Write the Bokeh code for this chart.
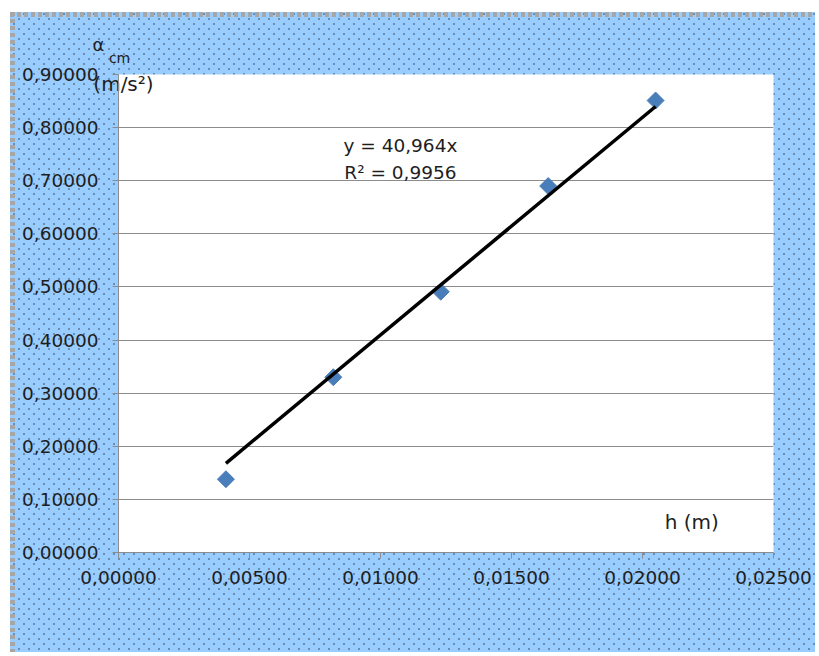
import math
from bokeh.plotting import figure
from bokeh.models import (Range1d, FixedTicker, CustomJSTickFormatter, Label, LinearAxis, Title)
from bokeh.embed import file_html
from bokeh.resources import INLINE

# ---- data ----
h_m = [0.0041, 0.0082, 0.0123, 0.0164, 0.0205]
a_cm = [0.138, 0.330, 0.491, 0.690, 0.851]
slope = 40.964
r2_text = "R² = 0,9956"
eq_text = "y = 40,964x"
x_title = "h (m)"
y_title_sym = "α"
y_title_sub = "cm"
y_title_unit = "(m/s²)"
x_ticks = [0.0, 0.005, 0.010, 0.015, 0.020, 0.025]
y_ticks = [0.0, 0.1, 0.2, 0.3, 0.4, 0.5, 0.6, 0.7, 0.8, 0.9]

FONT = "DejaVu Sans"
TXT = "#1e1e1e"
GRID = "#8c8c8c"
DASH = "#a6a6a6"
DOT = "#6a8db3"

p = figure(width=815, height=652, output_backend="svg", toolbar_location=None,
           x_range=Range1d(0, 0.025), y_range=Range1d(0, 0.9),
           min_border_left=118, min_border_right=42, min_border_top=74, min_border_bottom=100)
p.styles = {
    "background-color": "#99ccff",
    "background-image": (
        f"repeating-linear-gradient(to bottom, {DASH} 0px, {DASH} 4px, transparent 4px, transparent 7px), "
        f"repeating-linear-gradient(to right, {DASH} 0px, {DASH} 4px, transparent 4px, transparent 7px), "
        "linear-gradient(#ffffff, #ffffff), linear-gradient(#ffffff, #ffffff), "
        f"radial-gradient(circle at 1px 1px, {DOT} 0.8px, transparent 1.3px), "
        f"radial-gradient(circle at 1px 1px, {DOT} 0.8px, transparent 1.3px)"
    ),
    "background-size": "5px 100%, 100% 5px, 10px 100%, 100% 12px, 10px 10px, 10px 10px",
    "background-position": "10px 12px, 10px 12px, 0 0, 0 0, 3px 3px, 8px 8px",
    "background-repeat": "no-repeat, no-repeat, no-repeat, no-repeat, repeat, repeat",
}
p.border_fill_alpha = 0
p.background_fill_color = "white"
p.outline_line_color = None

fmt = CustomJSTickFormatter(code="return tick.toFixed(5).replace('.', ',');")

p.xaxis.ticker = FixedTicker(ticks=x_ticks)
p.yaxis.ticker = FixedTicker(ticks=y_ticks)
p.xaxis.formatter = fmt
p.yaxis.formatter = fmt
for ax in (p.xaxis, p.yaxis):
    ax.axis_line_color = GRID
    ax.axis_line_width = 1
    ax.major_tick_line_color = GRID
    ax.major_tick_in = 0
    ax.major_tick_out = 6
    ax.minor_tick_line_color = None
    ax.major_label_text_font = FONT
    ax.major_label_text_font_size = "18.5px"
    ax.major_label_text_color = TXT
p.yaxis.major_label_standoff = 14
p.xaxis.major_label_standoff = 12

p.xgrid.grid_line_color = None
p.ygrid.grid_line_color = GRID
p.ygrid.grid_line_width = 1

p.scatter(h_m, a_cm, marker="square", angle=math.pi / 4, size=12,
          fill_color="#4a7ebb", line_color="#4a7ebb")

xt = [min(h_m), max(h_m)]
yt = [slope * v for v in xt]
p.line(xt, yt, line_color="black", line_width=3.5)

def lab(x, y, text, size):
    p.add_layout(Label(x=x, y=y, text=text, text_font=FONT, text_font_size=size,
                       text_color=TXT, text_align="center", text_baseline="middle"))

lab(0.01076, 0.7665, eq_text, "18.5px")
lab(0.01076, 0.7155, r2_text, "18.5px")
lab(0.02188, 0.0565, x_title, "20px")

# y-axis title (outside the frame): single tick labels of label-only axes above the frame
def title_axis(xpos, text, size, standoff):
    ax = LinearAxis(ticker=FixedTicker(ticks=[xpos]),
                    formatter=CustomJSTickFormatter(code=f"return {text!r};"),
                    axis_line_color=None, major_tick_line_color=None,
                    minor_tick_line_color=None, major_tick_in=0, major_tick_out=0,
                    major_label_standoff=standoff, major_label_text_font=FONT,
                    major_label_text_font_size=size, major_label_text_color=TXT)
    p.add_layout(ax, "above")

title_axis(0.00019, y_title_unit, "20px", -21)
title_axis(0.00004, y_title_sub, "14px", 3)

t = Title(text=y_title_sym, align="left", offset=-26, standoff=-26, vertical_align="top",
          text_font=FONT, text_font_size="18px", text_font_style="normal", text_color=TXT)
p.add_layout(t, "above")

open("out.html", "w").write(file_html(p, INLINE))
